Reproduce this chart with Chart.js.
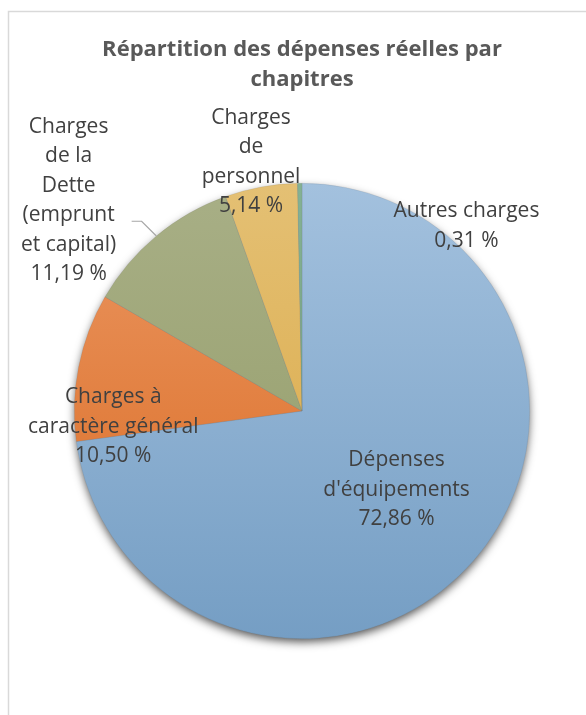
<!DOCTYPE html>
<html lang="fr">
<head>
<meta charset="utf-8">
<title>Répartition des dépenses réelles par chapitres</title>
<script src="https://cdn.jsdelivr.net/npm/chart.js@4"></script>
<style>
  html, body { margin: 0; padding: 0; background: #fff; }
  #wrap { width: 586px; height: 715px; }
</style>
</head>
<body>
<div id="wrap"><canvas id="pieChart" width="586" height="715"></canvas></div>
<script>
// Data
const categories = [
    "Dépenses d'équipements",
    "Charges à caractère général",
    "Charges de la Dette (emprunt et capital)",
    "Charges de personnel",
    "Autres charges"
];
const values = [72.86, 10.50, 11.19, 5.14, 0.31];
const labelLines = [
    ["Dépenses", "d'équipements"],
    ["Charges à", "caractère général"],
    ["Charges", "de la", "Dette", "(emprunt", "et capital)"],
    ["Charges", "de", "personnel"],
    ["Autres charges"]
];
const titleLines = ["Répartition des dépenses réelles par", "chapitres"];

// Styling (gradient top/bottom per slice)
const topColors = ["#a3c1de", "#eb9763", "#a8af86", "#e4c074", "#84b194"];
const bottomColors = ["#759ec4", "#d9691f", "#929b66", "#d9a640", "#6e9c7e"];
// label placement: distance (x radius) and angle shift (deg) from slice mid angle
const labelPlace = [
    { dist: 0.54, shift: -1.4 },
    { dist: 0.832, shift: -16 },
    { dist: 1.38, shift: -8.2 },
    { dist: 1.116, shift: -1.2 },
    { dist: 1.087, shift: 42.2 }
];
const leaderFor = [false, false, true, false, false];

const fmtPct = v => v.toFixed(2).replace('.', ',') + ' %';
const LABEL_FONT = '21px "Open Sans", sans-serif';
const LINE_H = 29.5;

const pieDecor = {
    id: 'pieDecor',
    beforeDraw(chart) {
        const ctx = chart.ctx;
        ctx.save();
        // chart frame
        ctx.strokeStyle = '#d9d9d9';
        ctx.lineWidth = 1.5;
        ctx.strokeRect(8.5, 11.5, 588, 760);
        // title
        ctx.fillStyle = '#595959';
        ctx.font = 'bold 22px "Open Sans", sans-serif';
        ctx.textAlign = 'center';
        ctx.textBaseline = 'middle';
        titleLines.forEach((t, i) => ctx.fillText(t, 302, 50 + i * 30));
        ctx.restore();
    },
    beforeDatasetsDraw(chart) {
        // soft shadow under the whole pie
        const arc = chart.getDatasetMeta(0).data[0];
        if (!arc) return;
        const ctx = chart.ctx;
        ctx.save();
        ctx.shadowColor = 'rgba(0,0,0,0.7)';
        ctx.shadowBlur = 10;
        ctx.shadowOffsetY = 4;
        ctx.fillStyle = '#7ba2c6';
        ctx.beginPath();
        ctx.arc(arc.x, arc.y, arc.outerRadius - 1, 0, Math.PI * 2);
        ctx.fill();
        ctx.restore();
    },
    afterDatasetsDraw(chart) {
        const ctx = chart.ctx;
        const arcs = chart.getDatasetMeta(0).data;
        ctx.save();
        ctx.font = LABEL_FONT;
        ctx.fillStyle = '#404040';
        ctx.textAlign = 'center';
        ctx.textBaseline = 'middle';
        arcs.forEach((arc, i) => {
            const mid = (arc.startAngle + arc.endAngle) / 2;
            const a = mid + labelPlace[i].shift * Math.PI / 180;
            const d = labelPlace[i].dist * arc.outerRadius;
            const cx = arc.x + Math.cos(a) * d;
            const cy = arc.y + Math.sin(a) * d;
            const lines = labelLines[i].concat([fmtPct(values[i])]);
            const y0 = cy - (lines.length - 1) * LINE_H / 2;
            lines.forEach((t, k) => ctx.fillText(t, cx, y0 + k * LINE_H));

            if (leaderFor[i]) {
                const ex = arc.x + Math.cos(mid) * arc.outerRadius;
                const ey = arc.y + Math.sin(mid) * arc.outerRadius;
                const ly = y0 + 3.2 * LINE_H;
                const elbowX = ex - (ey - ly);
                ctx.strokeStyle = '#a6a6a6';
                ctx.lineWidth = 1.2;
                ctx.beginPath();
                ctx.moveTo(ex, ey);
                ctx.lineTo(elbowX, ly);
                ctx.lineTo(elbowX - 10, ly);
                ctx.stroke();
            }
        });
        ctx.restore();
    }
};

const gradientFill = context => {
    const i = context.dataIndex;
    const area = context.chart.chartArea;
    if (!area) return topColors[i];
    const g = context.chart.ctx.createLinearGradient(0, area.top, 0, area.bottom);
    g.addColorStop(0, topColors[i]);
    g.addColorStop(1, bottomColors[i]);
    return g;
};

new Chart(document.getElementById('pieChart').getContext('2d'), {
    type: 'pie',
    data: {
        labels: categories,
        datasets: [{
            data: values,
            backgroundColor: gradientFill,
            borderColor: 'rgba(90,90,90,0.2)',
            borderWidth: 0.6,
            hoverOffset: 0
        }]
    },
    options: {
        responsive: false,
        animation: false,
        events: [],
        layout: { padding: { left: 74, right: 56, top: 183, bottom: 76 } },
        plugins: {
            legend: { display: false },
            title: { display: false },
            tooltip: { enabled: false }
        }
    },
    plugins: [pieDecor]
});
</script>
</body>
</html>
